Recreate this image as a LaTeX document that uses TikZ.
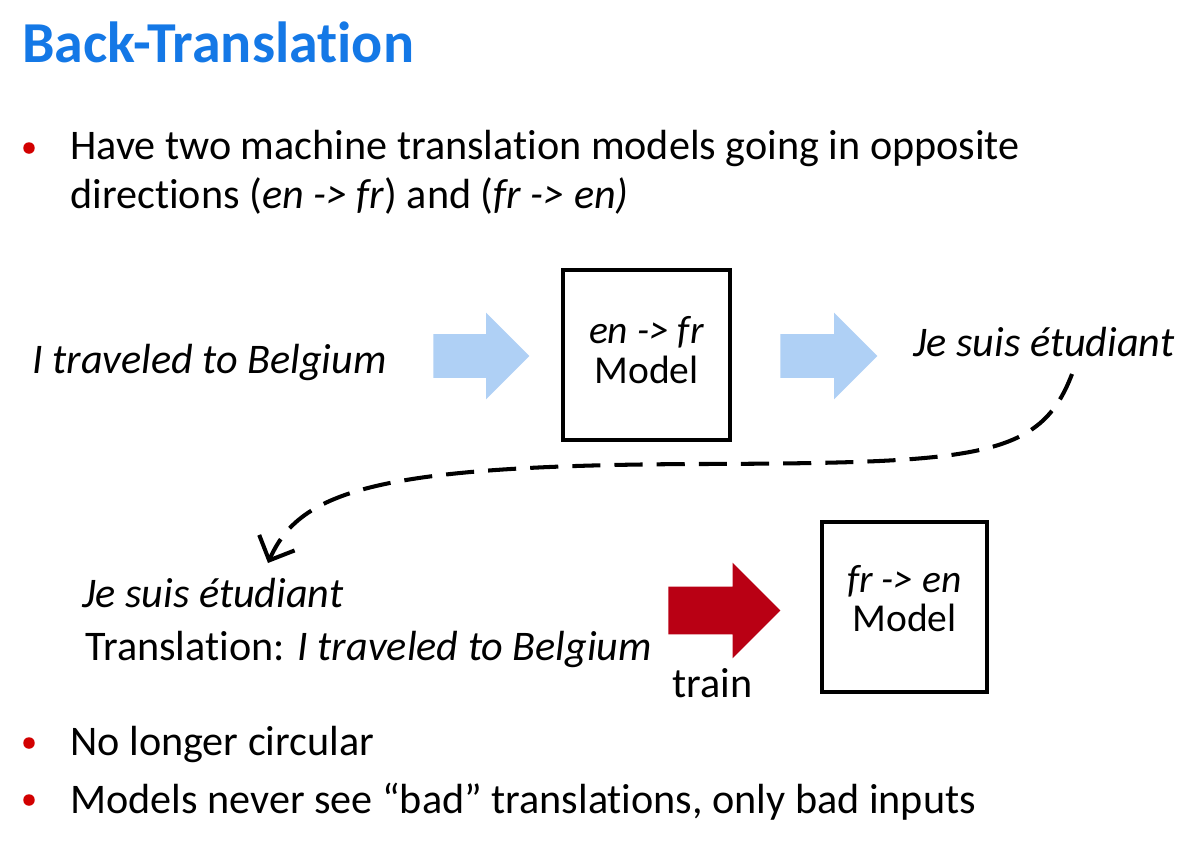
\documentclass[tikz,border=0pt]{standalone}
\usepackage{fontspec}
\setmainfont{Carlito}[Ligatures = {TeX, NoCommon}]
\usetikzlibrary{shapes.arrows,arrows.meta}

\definecolor{titleblue}{RGB}{20,120,230}
\definecolor{arrowblue}{RGB}{175,208,245}
\definecolor{trainred}{RGB}{185,0,20}
\definecolor{bulletred}{RGB}{210,0,0}

\tikzset{
	txt/.style = {anchor = base west, inner sep = 0, font = \fontsize{24}{29}\selectfont},
	bullet/.style = {circle, fill = bulletred, inner sep = 0, minimum size = 0.23cm},
	modelbox/.style = {draw, line width = 2.3pt, inner sep = 0},
	boxtxt/.style = {anchor = base, inner sep = 0, font = \fontsize{22.5}{27}\selectfont},
	blockarrow/.style = {single arrow, anchor = west, inner xsep = 0, single arrow head extend = 0.43cm,
		inner ysep = 0.43cm},
}

\begin{document}
\begin{tikzpicture}[x = 0.02cm, y = -0.02cm]
	
	\useasboundingbox (0, 0) rectangle (1202, 856);
	
	\node[anchor = base west, inner sep = 0, text = titleblue, font = \fontsize{33}{40}\selectfont\bfseries] (title) at (22, 62) {Back-Translation};
	
	% first bullet
	\node[bullet] (b1) at (29, 148) {};
	\node[txt] (l1) at (70, 159) {Have two machine translation models going in opposite};
	\node[txt] (l2) at (70, 208) {directions (\textit{en -> fr}) and (\textit{fr -> en)}};
	
	% upper row
	\node[txt] (src) at (32, 373) {\textit{I traveled to Belgium}};
	\node[blockarrow, fill = arrowblue, minimum height = 1.92cm] (a1) at (433, 356) {};
	\node[modelbox, minimum width = 3.34cm, minimum height = 3.4cm] (enfr) at (646.5, 355) {};
	\node[boxtxt] (enfrdir) at (646.5, 343) {\textit{en -> fr}};
	\node[boxtxt] (enfrname) at (646.5, 383) {Model};
	\node[blockarrow, fill = arrowblue, minimum height = 1.94cm] (a2) at (780, 356) {};
	\node[txt] (tgt) at (913, 356) {\textit{Je suis étudiant}};
	
	% lower row
	\node[txt] (btsrc) at (82, 607) {\textit{Je suis étudiant}};
	\node[txt] (bttgt) at (85, 660) {Translation: \textit{I traveled to Belgium}};
	\node[blockarrow, fill = trainred, minimum height = 2.24cm, inner ysep = 0.47cm, single arrow head extend = 0.48cm] (a3) at (668, 610.5) {};
	\node[txt] (train) at (672, 697) {train};
	\node[modelbox, minimum width = 3.3cm, minimum height = 3.4cm] (fren) at (904.5, 607) {};
	\node[boxtxt] (frendir) at (904.5, 592) {\textit{fr -> en}};
	\node[boxtxt] (frenname) at (904.5, 631) {Model};
	
	% back translation link
	\coordinate (dstart) at (1072, 374);
	\coordinate (dend) at (268, 563);
	\draw[line width = 2.3pt, dash pattern = on 16pt off 8pt, -{Straight Barb[length = 11pt, width = 22pt, line width = 2.3pt]}]
		(dstart) .. controls (1040, 458) and (980, 463) .. (700, 464)
		.. controls (380, 465) and (300, 490) .. (dend);
	
	% remaining bullets
	\node[bullet] (b2) at (29, 743) {};
	\node[txt] (l3) at (70, 755) {No longer circular};
	\node[bullet] (b3) at (29, 800) {};
	\node[txt] (l4) at (70, 813) {Models never see “bad” translations, only bad inputs};
\end{tikzpicture}
\end{document}
